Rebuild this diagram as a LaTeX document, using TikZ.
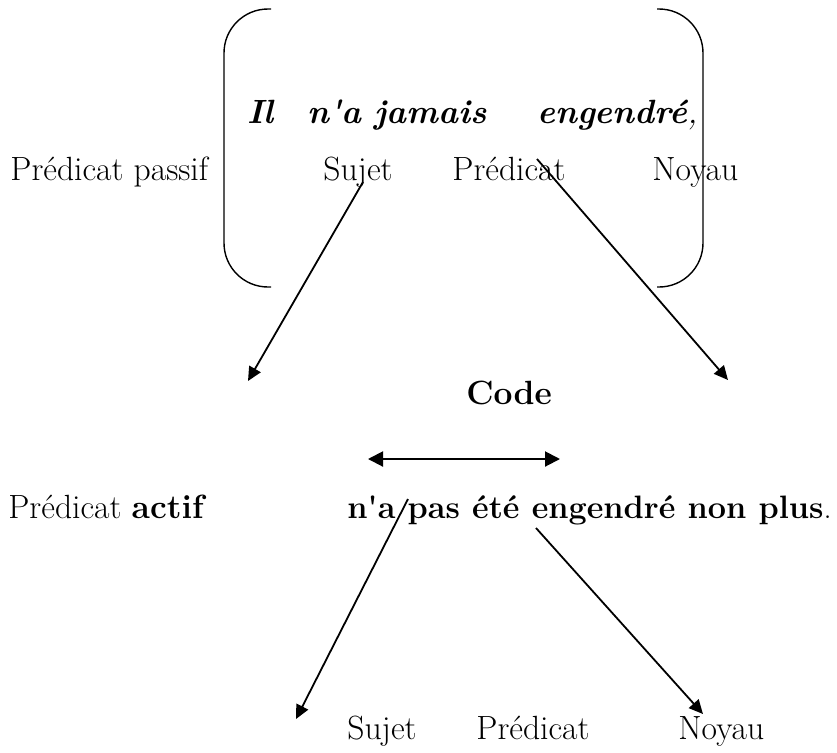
\documentclass[tikz,border=0pt]{standalone}
\usepackage{tikz}
\usetikzlibrary{arrows.meta}

\begin{document}
\begin{tikzpicture}[
    x=0.5pt, y=-0.5pt,
    every node/.style={font=\fontsize{16.8}{20}\selectfont, inner sep=0pt, anchor=base west},
    emph/.style={font=\fontsize{16.8}{20}\selectfont\bfseries\itshape},
    strong/.style={font=\fontsize{16.8}{20}\selectfont\bfseries},
    bracket/.style={line width=0.7pt, rounded corners=22pt},
    arr/.style={-{Triangle[length=7pt, width=6.5pt]}, line width=0.9pt},
    darr/.style={{Triangle[length=7.5pt, width=7.5pt]}-{Triangle[length=7.5pt, width=7.5pt]}, line width=1pt},
]
\useasboundingbox (0,0) rectangle (837,752);

% Passive sentence
\node (passif) at (10,180) {Prédicat passif};
\node[emph] (il)     at (247,123) {Il};
\node[emph] (jamais) at (307,123) {n\textquotesingle a jamais};
\node[emph] (engA)   at (537,123) {engendré\textmd{,}};
\node (sujA)  at (323,180) {Sujet};
\node (predA) at (452,180) {Prédicat};
\node (noyA)  at (652,180) {Noyau};

% Brackets
\draw[bracket] (271,9) -- (224,9) -- (224,287) -- (271,287);
\draw[bracket] (657,9) -- (703,9) -- (703,287) -- (657,287);

% Code
\node[strong] (code) at (466,404) {Code};
\coordinate (codeL) at (368,459);
\coordinate (codeR) at (560,459);

% Active sentence
\node (actif) at (8,518) {Prédicat \textbf{actif}};
\node[font=\fontsize{16.2}{20}\selectfont] (phrase) at (347,518)
    {\textbf{n\textquotesingle a pas été engendré non plus}.};
\node (sujB)  at (347,739) {Sujet};
\node (predB) at (476,739) {Prédicat};
\node (noyB)  at (678,739) {Noyau};

% Arrow ends
\coordinate (a1) at (363,182);
\coordinate (a1e) at (248,381);
\coordinate (a2) at (537,159);
\coordinate (a2e) at (728,380);
\coordinate (a3) at (408,499);
\coordinate (a3e) at (296,719);
\coordinate (a4) at (536,528);
\coordinate (a4e) at (703,714);

% Arrows
\draw[arr] (a1) -- (a1e);
\draw[arr] (a2) -- (a2e);
\draw[darr] (codeL) -- (codeR);
\draw[arr] (a3) -- (a3e);
\draw[arr] (a4) -- (a4e);
\end{tikzpicture}
\end{document}
